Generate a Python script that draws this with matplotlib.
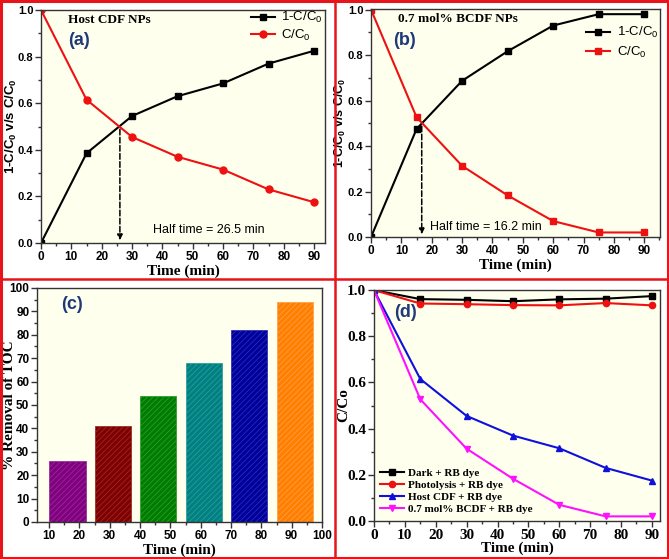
import numpy as np
import matplotlib
matplotlib.use("Agg")
import matplotlib.pyplot as plt
from matplotlib.lines import Line2D
from matplotlib.ticker import MultipleLocator

# data
t = [0, 15, 30, 45, 60, 75, 90]
cdf_c = [1.0, 0.615, 0.455, 0.37, 0.315, 0.23, 0.175]
cdf_1c = [0.0, 0.385, 0.545, 0.63, 0.685, 0.77, 0.825]
bcdf_c = [1.0, 0.527, 0.313, 0.183, 0.07, 0.02, 0.02]
bcdf_1c = [0.0, 0.475, 0.687, 0.817, 0.93, 0.98, 0.98]
half_a = 26.0
half_b = 16.7

toc_time = [15, 30, 45, 60, 75, 90]
toc_removal = [26, 41, 54, 68, 82, 94]
toc_colors = ['#800080', '#800000', '#007d00', '#008080', '#00009a', '#ff8000']
toc_hatch = ['#9a309a', '#9a3030', '#30a030', '#30a0a0', '#3030c0', '#ffa050']

dark = [1.0, 0.961, 0.958, 0.952, 0.96, 0.963, 0.974]
photo = [1.0, 0.942, 0.939, 0.935, 0.934, 0.944, 0.934]

SANS = 'Liberation Sans'
SERIF = 'Liberation Serif'
BG = '#FFFFEE'
plt.rcParams['font.family'] = SANS
plt.rcParams['hatch.linewidth'] = 0.5
plt.rcParams['mathtext.default'] = 'regular'

fig = plt.figure(figsize=(6.69, 5.59), dpi=100)


def style(ax, tickfont, xminor, yminor, size, ysize=None):
    ax.set_facecolor(BG)
    for s in ax.spines.values():
        s.set_color('#333333')
        s.set_linewidth(1.0)
    ax.tick_params(which='both', direction='out', top=False, right=False, colors='#333333', pad=1.5)
    ax.tick_params(which='major', length=4, width=1)
    ax.tick_params(which='minor', length=2.5, width=1)
    ax.xaxis.set_minor_locator(MultipleLocator(xminor))
    ax.yaxis.set_minor_locator(MultipleLocator(yminor))
    for lab in ax.get_xticklabels():
        lab.set_fontfamily(tickfont)
        lab.set_fontweight('bold')
        lab.set_fontsize(size)
        lab.set_color('black')
    for lab in ax.get_yticklabels():
        lab.set_fontfamily(tickfont)
        lab.set_fontweight('bold')
        lab.set_fontsize(ysize or size)
        lab.set_color('black')


# (a)
ax1 = fig.add_axes([0.0613, 0.5653, 0.4245, 0.4168])
ax1.plot(t, cdf_1c, '-s', color='black', ms=4.5, lw=1.5, label='1-C/C$_0$')
ax1.plot(t, cdf_c, '-o', color='#ee1111', ms=5, lw=1.5, label='C/C$_0$')
ax1.set_xlim(0, 93.6)
ax1.set_ylim(0, 1.0)
ax1.set_xticks(range(0, 91, 10))
ax1.set_yticks(np.arange(0, 1.01, 0.2))
ax1.annotate('', xy=(half_a, 0.0), xytext=(half_a, 0.5),
             arrowprops=dict(arrowstyle='-|>', ls='--', color='black', lw=1.1, mutation_scale=8))
ax1.text(37, 0.045, 'Half time = 26.5 min', fontsize=9, family=SANS)
ax1.text(9, 0.945, 'Host CDF NPs', fontsize=9.5, family=SERIF, weight='bold')
ax1.text(9, 0.85, '(a)', fontsize=13, family=SANS, weight='bold', color='#1f3a78')
ax1.legend(loc='upper right', frameon=False, fontsize=9.5, handlelength=1.8,
           bbox_to_anchor=(1.035, 1.05), labelspacing=0.2, handletextpad=0.5)
ax1.set_xlabel('Time (min)', family=SERIF, weight='bold', fontsize=11, labelpad=1)
ax1.set_ylabel('1-C/C$_0$ v/s C/C$_0$', family=SANS, weight='bold', fontsize=9.5)
ax1.yaxis.set_label_coords(-0.078, 0.5)
style(ax1, SANS, 5, 0.1, 8.5, 8)

# (b)
ax2 = fig.add_axes([0.5546, 0.576, 0.432, 0.408])
ax2.plot(t, bcdf_1c, '-s', color='black', ms=4.5, lw=1.5, label='1-C/C$_0$')
ax2.plot(t, bcdf_c, '-s', color='#ee1111', ms=4.5, lw=1.5, label='C/C$_0$')
ax2.set_xlim(0, 95.2)
ax2.set_ylim(0, 1.003)
ax2.set_xticks(range(0, 91, 10))
ax2.set_yticks(np.arange(0, 1.01, 0.2))
ax2.annotate('', xy=(half_b, 0.0), xytext=(half_b, 0.5),
             arrowprops=dict(arrowstyle='-|>', ls='--', color='black', lw=1.1, mutation_scale=8))
ax2.text(19.3, 0.03, 'Half time = 16.2 min', fontsize=9, family=SANS)
ax2.text(9, 0.945, '0.7 mol% BCDF NPs', fontsize=9.5, family=SERIF, weight='bold')
ax2.text(7.2, 0.845, '(b)', fontsize=13, family=SANS, weight='bold', color='#1f3a78')
ax2.legend(loc='upper right', frameon=False, fontsize=9.5, handlelength=1.8,
           bbox_to_anchor=(1.035, 0.98), labelspacing=0.35, handletextpad=0.5)
ax2.set_xlabel('Time (min)', family=SERIF, weight='bold', fontsize=11, labelpad=1)
ax2.set_ylabel('1-C/C$_0$ v/s C/C$_0$', family=SANS, weight='bold', fontsize=9)
ax2.yaxis.set_label_coords(-0.08, 0.5)
style(ax2, SANS, 5, 0.1, 8.5, 8)

# (c)
ax3 = fig.add_axes([0.0553, 0.0662, 0.426, 0.4186])
for x, v, c, h in zip(toc_time, toc_removal, toc_colors, toc_hatch):
    ax3.bar(x + 1, v, width=12, color=c, edgecolor=h, hatch='//////', lw=0.6)
ax3.set_xlim(6, 100)
ax3.set_ylim(0, 100)
ax3.set_xticks(range(10, 101, 10))
ax3.set_yticks(range(0, 101, 10))
ax3.text(14, 91, '(c)', fontsize=13, family=SANS, weight='bold', color='#1f3a78')
ax3.set_xlabel('Time (min)', family=SERIF, weight='bold', fontsize=11, labelpad=1)
ax3.set_ylabel('% Removal of TOC', family=SERIF, weight='bold', fontsize=11)
ax3.yaxis.set_label_coords(-0.075, 0.5)
style(ax3, SANS, 5, 5, 8.5)

# (d)
ax4 = fig.add_axes([0.559, 0.068, 0.4275, 0.413])
ax4.plot(t, dark, '-s', color='black', ms=4.5, lw=1.5, label='Dark + RB dye')
ax4.plot(t, photo, '-o', color='#ee1111', ms=4.5, lw=1.5, label='Photolysis + RB dye')
ax4.plot(t, cdf_c, '-^', color='#1010dd', ms=5, lw=1.5, label='Host CDF + RB dye')
ax4.plot(t, bcdf_c, '-v', color='#ff10ff', ms=5, lw=1.5, label='0.7 mol% BCDF + RB dye')
ax4.set_xlim(0, 92.6)
ax4.set_ylim(0, 1.0)
ax4.set_xticks(range(0, 91, 10))
ax4.set_yticks(np.arange(0, 1.01, 0.2))
ax4.text(6.5, 0.885, '(d)', fontsize=13, family=SANS, weight='bold', color='#1f3a78')
ax4.legend(loc='lower left', frameon=False, prop=dict(family=SERIF, weight='bold', size=8),
           handlelength=2.2, labelspacing=0.2, handletextpad=0.3, borderaxespad=0.0,
           bbox_to_anchor=(0.005, 0.01))
ax4.set_xlabel('Time (min)', family=SERIF, weight='bold', fontsize=11, labelpad=0)
ax4.set_ylabel('C/Co', family=SERIF, weight='bold', fontsize=11)
ax4.yaxis.set_label_coords(-0.084, 0.5)
style(ax4, SERIF, 5, 0.1, 11)

# red frame and dividers
red = '#e8141c'
fig.add_artist(Line2D([335 / 669, 335 / 669], [0, 1], color=red, lw=1.8))
fig.add_artist(Line2D([0, 1], [1 - 279 / 559, 1 - 279 / 559], color=red, lw=1.8))
fig.add_artist(plt.Rectangle((0.002, 0.002), 0.996, 0.996, fill=False, ec=red, lw=2.2,
                             transform=fig.transFigure))

fig.savefig('out.png', dpi=100)
